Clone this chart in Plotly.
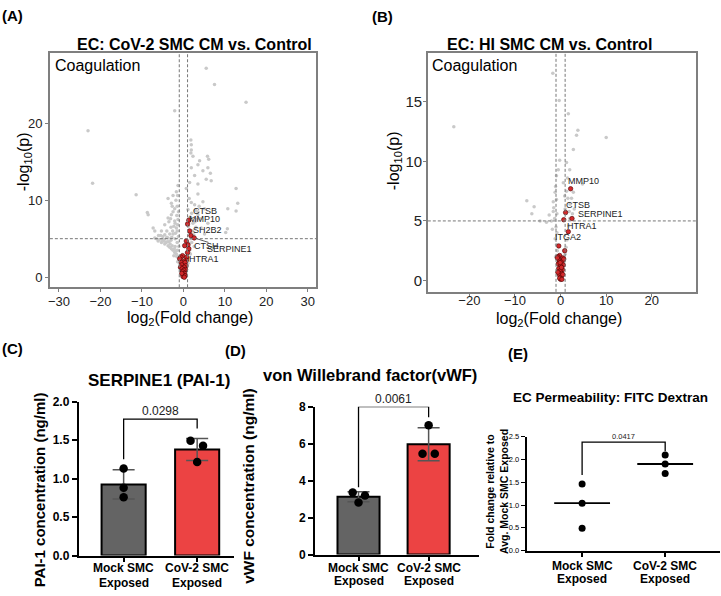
import plotly.graph_objects as go
import numpy as np

FONT = "Arial, Liberation Sans, Helvetica, sans-serif"
W, H = 721, 596

# ---------------- Panel A: EC: CoV-2 SMC CM vs. Control ----------------
a_gray = [
    (-23.0, 19.0), (-21.9, 12.2), (-11.4, 10.7), (-8.7, 8.4), (-8.5, 8.1), (-7.3, 6.4), (-6.9, 6.0),
    (-2.1, 21.6), (5.5, 27.1), (7.5, 25.0), (15.1, 22.7), (12.7, 11.5), (13.1, 9.6), (10.7, 8.9),
    (12.7, 8.6), (10.6, 6.3), (10.2, 5.8),
    (5.9, 14.2), (6.1, 15.3), (2.3, 15.7), (1.8, 17.8), (1.9, 17.2), (1.8, 16.1), (1.9, 16.5),
    (2.7, 13.2), (3.5, 14.6), (3.9, 15.1), (5.8, 15.7), (1.9, 14.2), (4.7, 13.8), (6.5, 13.5),
    (5.5, 12.7), (6.7, 12.5), (3.5, 12.1), (1.5, 12.3), (0.7, 11.5), (3.5, 10.8), (1.4, 10.2),
    (4.7, 9.8), (2.7, 9.4), (5.1, 8.9), (3.5, 8.1), (5.9, 7.0), (4.3, 6.4), (5.1, 5.6),
    (-3.7, 10.2), (-2.9, 9.6), (-2.5, 10.6), (-1.7, 11.1), (-1.3, 11.9), (-2.1, 8.9), (-3.7, 7.7),
    (-2.9, 8.1), (-4.5, 6.8), (-5.3, 6.0), (-2.1, 7.3), (-1.7, 6.4), (-2.5, 5.6), (-3.7, 5.1),
    (-6.1, 4.7), (-6.9, 5.1), (-4.5, 4.3), (-3.3, 3.9), (-2.5, 3.5), (-1.7, 3.0), (-1.3, 2.6),
    (-5.3, 4.5), (-3.7, 4.1), (-2.9, 3.7), (-2.1, 3.2),
    (-1.5, 4.5), (-2.0, 5.0), (-2.6, 6.0), (-1.5, 6.0), (-3.0, 6.5), (-2.0, 7.0), (-1.3, 7.5),
    (-3.5, 7.2), (-2.5, 8.5), (-1.5, 9.2), (-4.0, 6.0), (-3.0, 4.8), (-4.0, 5.2), (-5.0, 5.3),
    (-2.0, 4.0), (-1.5, 3.5), (-3.5, 4.6), (-4.5, 5.5), (-5.5, 5.4), (-6.0, 5.4), (-1.2, 8.5),
    (-1.8, 10.0), (-6.5, 5.0), (-5.8, 4.9), (-4.8, 4.7), (-4.2, 4.5), (-1.2, 5.3), (-1.1, 4.0),
    (-1.4, 2.0), (-2.3, 2.8), (-3.2, 4.3), (-2.7, 4.1), (-4.6, 4.9), (-5.1, 4.9), (-3.9, 4.6),
    (-2.2, 3.7), (-1.8, 3.4), (-1.6, 2.7), (-2.8, 5.2), (-3.3, 5.6), (-1.9, 5.7), (-1.4, 6.8),
    (-2.3, 6.6), (-3.1, 7.6), (-1.6, 8.0), (-2.7, 9.2), (-1.4, 10.6),
    (1.2, 2.5), (1.5, 3.5), (2.0, 4.5), (2.5, 5.5), (3.0, 6.5), (3.2, 7.5), (3.5, 8.5), (2.2, 6.0),
    (1.8, 5.0), (1.3, 4.4), (2.8, 7.2), (1.6, 7.8), (1.1, 8.8), (2.0, 8.3), (4.0, 7.6), (3.8, 9.2),
    (1.2, 6.6), (2.6, 4.0), (1.7, 3.0), (1.1, 1.8), (2.3, 7.0), (1.4, 5.8), (2.9, 8.7), (1.9, 9.7),
    (-0.8, 1.2), (-0.6, 0.8), (0.6, 0.9), (0.9, 1.4), (-0.9, 1.8), (0.4, 0.5), (-0.3, 0.3),
    (1.0, 2.2), (-1.1, 2.2), (0.8, 3.2),
]
a_red = [
    (1.3, 7.4), (1.0, 6.9), (1.5, 6.0), (1.8, 5.4), (2.6, 5.1), (0.7, 4.7), (1.1, 4.2), (0.3, 4.1),
    (1.3, 3.7), (1.0, 3.2), (-0.2, 2.8), (0.8, 2.6), (-0.6, 2.6), (-0.9, 2.4), (0.7, 2.2), (0.2, 2.1),
    (-0.5, 1.9), (0.4, 1.9), (-0.4, 1.6), (0.6, 1.5), (-0.7, 1.3), (0.2, 1.3), (-0.3, 1.1), (0.5, 1.0),
    (0.1, 0.9), (-0.2, 0.7), (0.3, 0.5), (0.0, 0.3), (-0.1, 0.1), (0.4, 0.2), (-0.4, 0.5), (0.2, 0.0),
]
a_label_genes = ["CTSB", "MMP10", "SH2B2", "SERPINE1", "CTSH", "HTRA1"]
a_label_fc = [1.3, 1.0, 1.8, 2.6, 1.3, 0.7]
a_label_p = [7.4, 6.9, 5.4, 5.1, 3.7, 2.2]

# ---------------- Panel B: EC: HI SMC CM vs. Control ----------------
b_gray = [
    (-23.4, 12.9), (-1.7, 17.4), (10.0, 12.0), (-0.3, 15.1), (1.7, 14.0), (3.8, 12.6), (3.5, 12.2),
    (2.8, 11.0), (1.3, 9.9), (2.0, 9.3), (4.8, 8.1), (2.8, 7.4), (-7.4, 6.7), (-6.3, 5.6), (-4.5, 5.0),
    (-1.6, 6.6), (-1.2, 7.4), (-0.9, 8.8), (-0.2, 10.1), (0.6, 8.2), (-1.6, 5.8), (-3.1, 4.9),
    (-5.8, 6.2), (-2.5, 5.5),
    (-1.0, 4.5), (-0.8, 4.0), (-1.2, 3.5), (-0.9, 3.0), (-0.7, 2.5), (-1.1, 2.0), (-0.6, 1.5),
    (-0.4, 1.0), (0.5, 1.0), (0.8, 1.6), (1.0, 2.2), (1.2, 2.8), (1.4, 3.4), (1.6, 4.0), (1.8, 4.6),
    (2.0, 5.2), (1.9, 5.8), (2.1, 6.4), (1.6, 6.9), (1.3, 7.5), (2.4, 6.9), (1.0, 6.0), (-1.3, 5.2),
    (-1.5, 6.1), (-0.9, 6.8), (-1.1, 7.9), (-0.5, 9.3), (1.5, 8.6), (0.9, 7.1), (-2.0, 5.0),
    (-1.8, 4.3), (3.0, 6.0), (2.6, 5.6), (-0.8, 5.6),
]
b_red = [
    (2.2, 7.7), (1.1, 5.7), (2.5, 5.2), (0.7, 5.1), (1.7, 4.1), (-0.4, 2.9), (0.9, 2.5), (-0.2, 2.1),
    (-0.6, 2.0), (0.5, 1.9), (-0.3, 1.7), (0.3, 1.6), (-0.5, 1.4), (0.6, 1.3), (0.0, 1.2), (-0.4, 1.0),
    (0.4, 0.9), (-0.1, 0.8), (0.2, 0.6), (-0.3, 0.5), (0.1, 0.3), (0.0, 0.1), (-0.2, 0.2), (0.3, 0.1),
    (0.5, 0.5), (-0.6, 0.7), (0.7, 1.8), (-0.7, 1.9), (0.2, 1.1), (-0.1, 1.5),
]
b_label_genes = ["MMP10", "CTSB", "SERPINE1", "HTRA1", "ITGA2"]
b_label_fc = [2.2, 1.1, 2.5, 1.7, -0.4]
b_label_p = [7.7, 5.7, 5.2, 4.1, 2.9]

fc_threshold = 1.0
p_threshold = 5.0

# ---------------- Panels C, D, E ----------------
groups = ["Mock SMC<br>Exposed", "CoV-2 SMC<br>Exposed"]
pai1_mock = [1.13, 0.88, 0.757]
pai1_cov = [1.49, 1.426, 1.215]
vwf_mock = [3.35, 3.20, 2.82]
vwf_cov = [7.00, 5.45, 5.45]
fitc_mock = [1.46, 1.04, 0.49]
fitc_cov = [2.10, 1.90, 1.69]
pai1_p = "0.0298"
vwf_p = "0.0061"
fitc_p = "0.0417"
pai1_bracket = [1.25, 1.77, 1.65]
vwf_bracket = [3.64, 8.0, 7.43]
fitc_bracket = [1.66, 2.38, 2.18]

# jitter offsets (layout) for dots over bars
c_jit = [[0, 0, 0], [-0.09, 0.08, 0.0]]
d_jit = [[-0.083, 0.092, 0.0], [0.0, -0.087, 0.088]]

GRAY = "#c9c9c9"
RED = "#d3292b"
BAR_COLORS = ["#646464", "#ec4343"]

fig = go.Figure()


def volcano(gray, red, xa, ya):
    fig.add_trace(go.Scatter(
        x=[p[0] for p in gray], y=[p[1] for p in gray], mode="markers", xaxis=xa, yaxis=ya,
        marker=dict(size=3.5, color=GRAY), showlegend=False, hoverinfo="skip"))
    fig.add_trace(go.Scatter(
        x=[p[0] for p in red], y=[p[1] for p in red], mode="markers", xaxis=xa, yaxis=ya,
        marker=dict(size=4.5, color=RED, line=dict(color="#4a0000", width=0.6)),
        showlegend=False, hoverinfo="skip"))


volcano(a_gray, a_red, "x", "y")
volcano(b_gray, b_red, "x2", "y2")

xpos = list(range(len(groups)))


def barpanel(mock, cov, jit, xa, ya):
    data = [mock, cov]
    means = [float(np.mean(d)) for d in data]
    sds = [float(np.std(d, ddof=1)) for d in data]
    fig.add_trace(go.Bar(
        x=xpos, y=means, width=0.6, xaxis=xa, yaxis=ya,
        marker=dict(color=BAR_COLORS, line=dict(color="black", width=2)),
        error_y=dict(type="data", array=sds, visible=True, color="#555555", thickness=1.5, width=11),
        showlegend=False, hoverinfo="skip"))
    for i, d in enumerate(data):
        fig.add_trace(go.Scatter(
            x=[xpos[i] + j for j in jit[i]], y=d, mode="markers", xaxis=xa, yaxis=ya,
            marker=dict(size=8.5, color="black"), showlegend=False, hoverinfo="skip", cliponaxis=False))


barpanel(pai1_mock, pai1_cov, c_jit, "x3", "y3")
barpanel(vwf_mock, vwf_cov, d_jit, "x4", "y4")

# Panel E dots + median lines
for i, d in enumerate([fitc_mock, fitc_cov]):
    fig.add_trace(go.Scatter(
        x=[xpos[i]] * len(d), y=d, mode="markers", xaxis="x5", yaxis="y5",
        marker=dict(size=7, color="black"), showlegend=False, hoverinfo="skip"))
    med = float(np.median(d))
    fig.add_trace(go.Scatter(
        x=[xpos[i] - 0.336, xpos[i] + 0.336], y=[med, med], mode="lines", xaxis="x5", yaxis="y5",
        line=dict(color="black", width=1.8), showlegend=False, hoverinfo="skip"))


# significance brackets
def bracket(b, ptxt, xa, ya, size):
    fig.add_trace(go.Scatter(
        x=[xpos[0], xpos[0], xpos[1], xpos[1]], y=[b[0], b[1], b[1], b[2]], mode="lines",
        xaxis=xa, yaxis=ya, line=dict(color="black", width=1.3), showlegend=False,
        hoverinfo="skip", cliponaxis=False))
    fig.add_annotation(x=(xpos[0] + xpos[1]) / 2, y=b[1], xref=xa, yref=ya, text=ptxt,
                       showarrow=False, yanchor="bottom", yshift=-1,
                       font=dict(family=FONT, size=size, color="#222"))


bracket(pai1_bracket, pai1_p, "x3", "y3", 12)
bracket(vwf_bracket, vwf_p, "x4", "y4", 12)
bracket(fitc_bracket, fitc_p, "x5", "y5", 7.5)

# volcano threshold lines
for xr, yr in [("x", "y"), ("x2", "y2")]:
    for v in (-fc_threshold, fc_threshold):
        fig.add_shape(type="line", xref=xr, yref=yr + " domain", x0=v, x1=v, y0=0, y1=1,
                      line=dict(color="#777", width=1, dash="3px,2px"))
    fig.add_shape(type="line", xref=xr + " domain", yref=yr, x0=0, x1=1, y0=p_threshold, y1=p_threshold,
                  line=dict(color="#777", width=1, dash="3px,2px"))

# gene labels
a_lab_layout = {"CTSB": dict(arrow=True, ax=16, ay=-9.5), "SERPINE1": dict(arrow=True, ax=35, ay=11),
                "MMP10": dict(xs=-1, ys=5.5), "SH2B2": dict(xs=0, ys=5.6), "CTSH": dict(xs=3.3, ys=2.4),
                "HTRA1": dict(xs=1, ys=1.6)}
for g, fx, py in zip(a_label_genes, a_label_fc, a_label_p):
    L = a_lab_layout[g]
    if L.get("arrow"):
        fig.add_annotation(x=fx, y=py, xref="x", yref="y", text=g, showarrow=True, arrowhead=0,
                           arrowwidth=0.8, arrowcolor="#333", ax=L["ax"], ay=L["ay"], standoff=2,
                           font=dict(family=FONT, size=9, color="#222"))
    else:
        fig.add_annotation(x=fx, y=py, xref="x", yref="y", text=g, showarrow=False, xanchor="left",
                           xshift=L["xs"], yshift=L["ys"], font=dict(family=FONT, size=9, color="#222"))

b_lab_layout = {"MMP10": (-5, 8), "CTSB": (-1.7, 8), "SERPINE1": (4.5, 5), "HTRA1": (-3.5, 6), "ITGA2": (-6, 9)}
for g, fx, py in zip(b_label_genes, b_label_fc, b_label_p):
    xs, ys = b_lab_layout[g]
    fig.add_annotation(x=fx, y=py, xref="x2", yref="y2", text=g, showarrow=False, xanchor="left",
                       xshift=xs, yshift=ys, font=dict(family=FONT, size=9, color="#222"))


def ann(text, px, py, size, bold=False, xanchor="center", angle=0):
    fig.add_annotation(xref="paper", yref="paper", x=px / W, y=1 - py / H, text=text, showarrow=False,
                       xanchor=xanchor, yanchor="middle", textangle=angle,
                       font=dict(family=FONT, size=size, color="black", weight="bold" if bold else "normal"))


# group labels under bar / dot panels (two lines each)
for xa, line_y in [("x3", (575, 590)), ("x4", (574, 588)), ("x5", (572, 586))]:
    for i, g in enumerate(groups):
        for k, part in enumerate(g.split("<br>")):
            fig.add_annotation(x=xpos[i], xref=xa, y=1 - line_y[k] / H, yref="paper", text=part,
                               showarrow=False, yanchor="middle",
                               font=dict(family=FONT, size=12, color="black", weight="bold"))

ann("(A)", 11, 9, 15, True)
ann("(B)", 382, 10, 15, True)
ann("(C)", 11, 350, 15, True)
ann("(D)", 234, 352, 15, True)
ann("(E)", 517, 355, 15, True)
ann("EC: CoV-2 SMC CM vs. Control", 193, 38, 16, True)
ann("EC: HI SMC CM vs. Control", 549, 38, 16, True)
ann("Coagulation", 51, 60, 16, False, "left")
ann("Coagulation", 429, 60, 16, False, "left")
ann("log<sub>2</sub>(Fold change)", 189, 319, 16)
ann("log<sub>2</sub>(Fold change)", 559, 320, 16)
ann("-log<sub>10</sub>(p)", 22, 158, 16, angle=-90)
ann("-log<sub>10</sub>(p)", 393, 157, 16, angle=-90)
ann("SERPINE1 (PAI-1)", 157, 382, 17, True)
ann("von Willebrand factor(vWF)", 369, 377, 16.5, True)
ann("EC Permeability: FITC Dextran", 610, 400, 13.5, True)
ann("PAI-1 concentration (ng/ml)", 37, 494, 15, True, angle=-90)
ann("vWF concentration (ng/ml)", 247, 491, 15.5, True, angle=-90)
ann("Fold change relative to<br>Avg. Mock SMC Exposed", 497, 496, 10.5, True, angle=-90)

vol_ax = dict(showline=True, mirror=True, linecolor="#7f7f7f", linewidth=1.5, ticks="outside",
              ticklen=3, tickcolor="#7f7f7f", showgrid=False, zeroline=False,
              tickfont=dict(family=FONT, size=13, color="#222"))
bar_ax = dict(showline=True, linecolor="black", linewidth=2, ticks="outside", ticklen=5, tickwidth=2,
              tickcolor="black", showgrid=False, zeroline=False,
              tickfont=dict(family=FONT, size=12, color="black", weight="bold"))

fig.update_layout(
    width=W, height=H, margin=dict(l=0, r=0, t=0, b=0), autosize=False,
    paper_bgcolor="white", plot_bgcolor="white", showlegend=False,
    xaxis=dict(domain=[48 / W, 315 / W], range=[-32.2, 32], tickvals=[-30, -20, -10, 0, 10, 20, 30],
               anchor="y", ticklabelstandoff=-2, **vol_ax),
    yaxis=dict(domain=[1 - 287 / H, 1 - 47 / H], range=[-1.3, 29.1], tickvals=[0, 10, 20], anchor="x",
               **vol_ax),
    xaxis2=dict(domain=[427 / W, 696 / W], range=[-29.1, 29.7], tickvals=[-20, -10, 0, 10, 20],
                anchor="y2", ticklabelstandoff=-7, **vol_ax),
    yaxis2=dict(domain=[1 - 291.7 / H, 1 - 47 / H], range=[-0.95, 19.1], tickvals=[0, 5, 10, 15],
                anchor="x2", ticklabelstandoff=-2,
                **{**vol_ax, "tickfont": dict(family=FONT, size=15, color="#222")}),
    xaxis3=dict(domain=[77 / W, 233 / W], range=[-0.61, 1.506], tickvals=xpos, showticklabels=False,
                anchor="y3", **{**bar_ax, "ticklen": 4}),
    yaxis3=dict(domain=[1 - 561.7 / H, 1 - 404 / H], range=[0, 2.0], tickvals=[0, 0.5, 1.0, 1.5, 2.0],
                tickformat=".1f", anchor="x3", **bar_ax),
    xaxis4=dict(domain=[314 / W, 478 / W], range=[-0.619, 1.714], tickvals=xpos, showticklabels=False,
                anchor="y4", **{**bar_ax, "ticklen": 4}),
    yaxis4=dict(domain=[1 - 560.7 / H, 1 - 409.3 / H], range=[0, 8], tickvals=[0, 2, 4, 6, 8],
                anchor="x4", **bar_ax),
    xaxis5=dict(domain=[526 / W, 720 / W], range=[-0.669, 1.66], tickvals=xpos, showticklabels=False,
                anchor="y5", **{**bar_ax, "linewidth": 1.5, "tickwidth": 1.5, "ticklen": 5}),
    yaxis5=dict(domain=[1 - 556.7 / H, 1 - 440 / H], range=[0, 2.5], tickvals=[0, 0.5, 1.0, 1.5, 2.0, 2.5],
                tickformat=".1f", anchor="x5",
                **{**bar_ax, "linewidth": 1.5, "tickwidth": 1, "ticklen": 4,
                   "tickfont": dict(family=FONT, size=7.5, color="black")}),
)

fig.write_html("out.html", config={"displayModeBar": False},
               post_script="document.body.style.margin='0';document.body.style.overflow='hidden';")
